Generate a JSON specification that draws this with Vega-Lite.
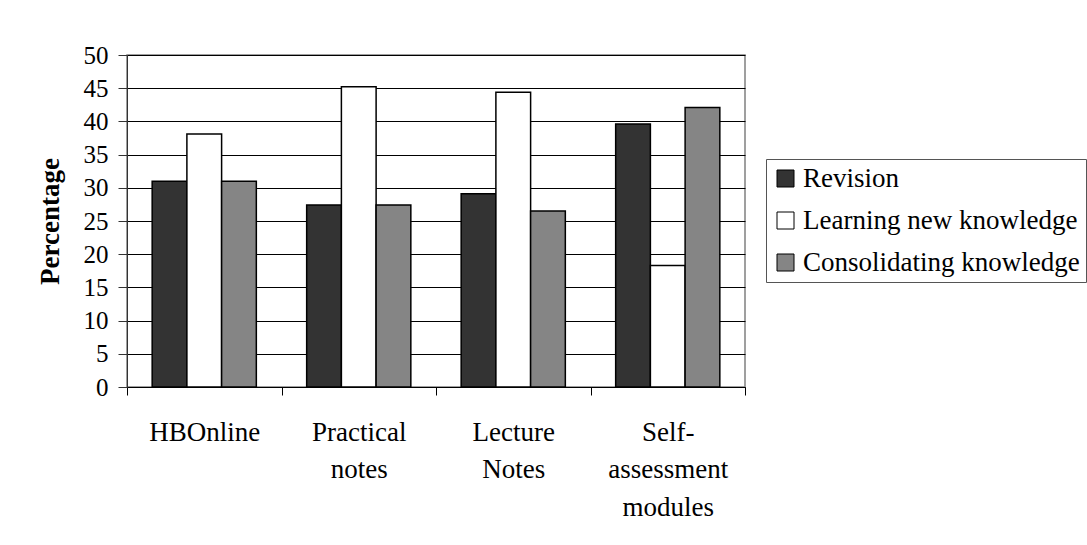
{
  "$schema": "https://vega.github.io/schema/vega-lite/v6.json",
  "width": 618,
  "height": 332,
  "autosize": {"type": "none"},
  "padding": {"left": 127, "top": 55, "right": 342, "bottom": 158},
  "background": "white",
  "config": {
    "font": "Liberation Serif",
    "view": {"stroke": "#808080", "strokeWidth": 1.5}
  },
  "data": {
    "values": [
      {"resource": "HBOnline", "purpose": "Revision", "pct": 31.0},
      {"resource": "HBOnline", "purpose": "Learning new knowledge", "pct": 38.1},
      {"resource": "HBOnline", "purpose": "Consolidating knowledge", "pct": 31.0},
      {"resource": "Practical notes", "purpose": "Revision", "pct": 27.4},
      {"resource": "Practical notes", "purpose": "Learning new knowledge", "pct": 45.2},
      {"resource": "Practical notes", "purpose": "Consolidating knowledge", "pct": 27.4},
      {"resource": "Lecture Notes", "purpose": "Revision", "pct": 29.1},
      {"resource": "Lecture Notes", "purpose": "Learning new knowledge", "pct": 44.4},
      {"resource": "Lecture Notes", "purpose": "Consolidating knowledge", "pct": 26.5},
      {"resource": "Self-assessment modules", "purpose": "Revision", "pct": 39.6},
      {"resource": "Self-assessment modules", "purpose": "Learning new knowledge", "pct": 18.3},
      {"resource": "Self-assessment modules", "purpose": "Consolidating knowledge", "pct": 42.1}
    ]
  },
  "mark": {"type": "bar", "stroke": "black", "strokeWidth": 1.5},
  "encoding": {
    "x": {
      "field": "resource",
      "type": "nominal",
      "sort": ["HBOnline", "Practical notes", "Lecture Notes", "Self-assessment modules"],
      "scale": {"paddingInner": 0, "paddingOuter": 0},
      "axis": {
        "title": null,
        "labelAngle": 0,
        "tickBand": "extent",
        "tickSize": 8,
        "tickColor": "black",
        "domainColor": "black",
        "labelFontSize": 27,
        "labelColor": "black",
        "labelPadding": 24,
        "labelLineHeight": 37.5,
        "labelBaseline": "top",
        "labelExpr": "!isString(datum.value) ? '' : datum.value == 'Self-assessment modules' ? ['Self-', 'assessment', 'modules'] : split(datum.value, ' ')",
        "grid": false
      }
    },
    "xOffset": {
      "field": "purpose",
      "type": "nominal",
      "sort": ["Revision", "Learning new knowledge", "Consolidating knowledge"],
      "scale": {"paddingInner": 0, "paddingOuter": 0.725}
    },
    "y": {
      "field": "pct",
      "type": "quantitative",
      "scale": {"domain": [0, 50]},
      "axis": {
        "title": "Percentage",
        "titleFontSize": 27,
        "titleFontWeight": "bold",
        "titleColor": "black",
        "titlePadding": 19,
        "values": [0, 5, 10, 15, 20, 25, 30, 35, 40, 45, 50],
        "labelFontSize": 25,
        "labelColor": "black",
        "labelPadding": 10,
        "tickSize": 9,
        "tickColor": "#333333",
        "domainColor": "#333333",
        "gridColor": "black",
        "gridWidth": 1
      }
    },
    "color": {
      "field": "purpose",
      "type": "nominal",
      "sort": ["Revision", "Learning new knowledge", "Consolidating knowledge"],
      "scale": {
        "domain": ["Revision", "Learning new knowledge", "Consolidating knowledge"],
        "range": ["#333333", "#ffffff", "#858585"]
      },
      "legend": {
        "title": null,
        "orient": "none",
        "legendX": 639,
        "legendY": 104,
        "direction": "vertical",
        "symbolType": "square",
        "symbolSize": 289,
        "symbolStrokeColor": "black",
        "symbolStrokeWidth": 1,
        "symbolOpacity": 1,
        "labelFontSize": 27,
        "labelColor": "black",
        "labelLimit": 400,
        "labelOffset": 4,
        "rowPadding": 14,
        "padding": 6,
        "strokeColor": "#555555",
        "fillColor": "white"
      }
    }
  }
}
